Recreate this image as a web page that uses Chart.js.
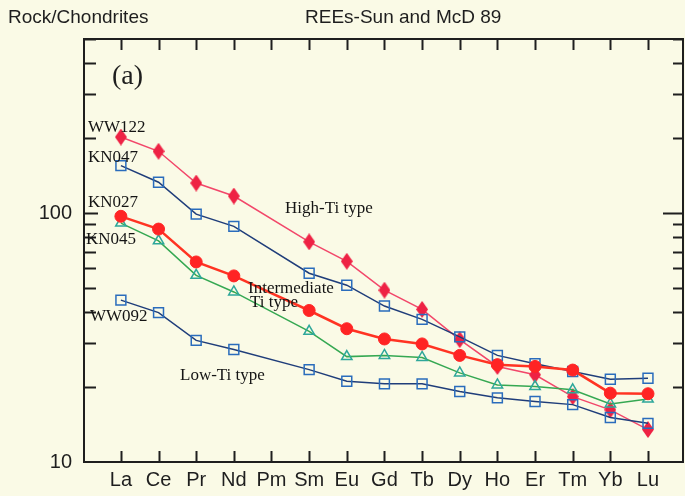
<!DOCTYPE html>
<html>
<head>
<meta charset="utf-8">
<script src="https://cdn.jsdelivr.net/npm/chart.js@4.4.1/dist/chart.umd.min.js"></script>
<style>
  html, body { margin: 0; padding: 0; background: #fafae6; overflow: hidden; }
  canvas { display: block; }
</style>
</head>
<body>
<canvas id="ree" width="685" height="496"></canvas>
<script>
const elements = ["La", "Ce", "Pr", "Nd", "Pm", "Sm", "Eu", "Gd", "Tb", "Dy", "Ho", "Er", "Tm", "Yb", "Lu"];

// chondrite-normalised REE (Sun & McDonough 1989), Pm not analysed
const ww122 = [202, 177, 132, 117, null, 76.6, 64, 49, 41, 31, 24.2, 22.4, 18.3, 16.2, 13.5];
const kn047 = [155, 133, 99, 88.4, null, 57.3, 51.3, 42.3, 37.4, 31.8, 26.8, 24.8, 23.1, 21.5, 21.7];
const kn027 = [97, 86.2, 63.6, 55.9, null, 40.6, 34.3, 31.2, 29.8, 26.8, 24.6, 24.2, 23.4, 18.9, 18.8];
const kn045 = [91.1, 77.3, 56.2, 48.2, null, 33.5, 26.5, 26.8, 26.3, 22.8, 20.4, 20.1, 19.5, 17.1, 17.9];
const ww092 = [44.7, 39.8, 30.8, 28.3, null, 23.5, 21.1, 20.6, 20.6, 19.2, 18.1, 17.5, 17.0, 15.1, 14.3];

const yLabelled = [10, 100];
const yMinor = [20, 30, 40, 50, 60, 70, 80, 90, 200, 300, 400, 500];

const points = (vals) => vals
  .map((v, i) => (v == null ? null : { x: i, y: v }))
  .filter(Boolean);

// tall red diamond marker
function diamond(w, h, color) {
  const c = document.createElement("canvas");
  c.width = w; c.height = h;
  const g = c.getContext("2d");
  g.fillStyle = color;
  g.beginPath();
  g.moveTo(w / 2, 0);
  g.lineTo(w, h / 2);
  g.lineTo(w / 2, h);
  g.lineTo(0, h / 2);
  g.closePath();
  g.fill();
  return c;
}

const INK = "#1e1e1e";

const frameTicks = {
  id: "frameTicks",
  beforeDatasetsDraw(chart) {
    const { ctx, chartArea: a, scales } = chart;
    const x = scales.x, y = scales.y;
    ctx.save();
    ctx.strokeStyle = INK;
    ctx.lineWidth = 2;
    ctx.strokeRect(a.left, a.top, a.right - a.left, a.bottom - a.top);
    ctx.beginPath();
    elements.forEach((_, i) => {
      const px = Math.round(x.getPixelForValue(i)) + 0.5;
      ctx.moveTo(px, a.bottom); ctx.lineTo(px, a.bottom - 11);
      ctx.moveTo(px, a.top); ctx.lineTo(px, a.top + 11);
    });
    yMinor.forEach((v) => {
      const py = Math.round(y.getPixelForValue(v)) + 0.5;
      ctx.moveTo(a.left, py); ctx.lineTo(a.left + 12, py);
      ctx.moveTo(a.right, py); ctx.lineTo(a.right - 10, py);
    });
    const p100 = Math.round(y.getPixelForValue(100)) + 0.5;
    ctx.moveTo(a.left, p100); ctx.lineTo(a.left + 14, p100);
    ctx.moveTo(a.right, p100); ctx.lineTo(a.right - 20, p100);
    ctx.stroke();
    ctx.restore();
  },
  afterDraw(chart) {
    const { ctx, chartArea: a } = chart;
    ctx.save();
    ctx.fillStyle = INK;
    ctx.textBaseline = "middle";
    ctx.font = "19px 'Liberation Sans', Arial, sans-serif";
    ctx.fillText("Rock/Chondrites", 8, 18);
    ctx.fillText("REEs-Sun and McD 89", 305, 18);

    ctx.font = "28px 'Liberation Serif', 'Times New Roman', serif";
    ctx.fillText("(a)", a.left + 28, 77);

    ctx.fillStyle = "#141414";
    ctx.font = "17px 'Liberation Serif', 'Times New Roman', serif";
    ctx.fillText("WW122", a.left + 4, 128);
    ctx.fillText("KN047", a.left + 4, 158);
    ctx.fillText("KN027", a.left + 4, 203);
    ctx.fillText("KN045", a.left + 2, 240);
    ctx.fillText("WW092", a.left + 6, 317);
    ctx.fillText("High-Ti type", 285, 209);
    ctx.fillText("Intermediate", 248, 289);
    ctx.fillText("Ti type", 250, 303);
    ctx.fillText("Low-Ti type", 180, 376);
    ctx.restore();
  }
};

new Chart(document.getElementById("ree"), {
  type: "line",
  data: {
    datasets: [
      {
        label: "KN027",
        data: points(kn027),
        borderColor: "#ff3322",
        borderWidth: 2.5,
        pointStyle: "circle",
        pointRadius: 6,
        pointBackgroundColor: "#ff2424",
        pointBorderColor: "#ff2424",
        pointBorderWidth: 1,
      },
      {
        label: "WW092",
        data: points(ww092),
        borderColor: "#1f3d7a",
        borderWidth: 1.5,
        pointStyle: "rect",
        pointRadius: 7,
        pointBackgroundColor: "rgba(0,0,0,0)",
        pointBorderColor: "#2a6cbc",
        pointBorderWidth: 1.5,
      },
      {
        label: "KN045",
        data: points(kn045),
        borderColor: "#35a852",
        borderWidth: 1.5,
        pointStyle: "triangle",
        pointRadius: 6,
        pointBackgroundColor: "rgba(0,0,0,0)",
        pointBorderColor: "#2ea79a",
        pointBorderWidth: 1.5,
      },
      {
        label: "KN047",
        data: points(kn047),
        borderColor: "#1f3d7a",
        borderWidth: 1.5,
        pointStyle: "rect",
        pointRadius: 7,
        pointBackgroundColor: "rgba(0,0,0,0)",
        pointBorderColor: "#2a6cbc",
        pointBorderWidth: 1.5,
      },
      {
        label: "WW122",
        data: points(ww122),
        borderColor: "#f2476a",
        borderWidth: 1.5,
        pointStyle: diamond(12, 17, "#ee2244"),
        pointRadius: 7,
      },
    ],
  },
  options: {
    responsive: false,
    animation: false,
    events: [],
    layout: {
      autoPadding: false,
      padding: { top: 39, right: 2, left: 0, bottom: 0 },
    },
    plugins: {
      legend: { display: false },
      tooltip: { enabled: false },
    },
    scales: {
      x: {
        type: "linear",
        min: -0.98,
        max: 14.93,
        afterFit: (s) => {
          s.height = 34;
          s.paddingLeft = 0;
          s.paddingRight = 0;
        },
        afterBuildTicks: (s) => {
          s.ticks = elements.map((_, i) => ({ value: i }));
        },
        grid: { display: false, drawTicks: false },
        border: { display: false },
        ticks: {
          autoSkip: false,
          maxRotation: 0,
          padding: 6,
          color: INK,
          font: { family: "'Liberation Sans', Arial, sans-serif", size: 20 },
          callback: (v) => elements[v] ?? "",
        },
      },
      y: {
        type: "logarithmic",
        min: 10,
        max: 500,
        afterFit: (s) => {
          s.width = 84;
          s.paddingTop = 0;
          s.paddingBottom = 0;
        },
        afterBuildTicks: (s) => {
          s.ticks = yLabelled.map((v) => ({ value: v }));
        },
        grid: { display: false, drawTicks: false },
        border: { display: false },
        ticks: {
          autoSkip: false,
          padding: 12,
          color: INK,
          font: { family: "'Liberation Sans', Arial, sans-serif", size: 20 },
          callback: (v) => String(v),
        },
      },
    },
  },
  plugins: [frameTicks],
});
</script>
</body>
</html>
